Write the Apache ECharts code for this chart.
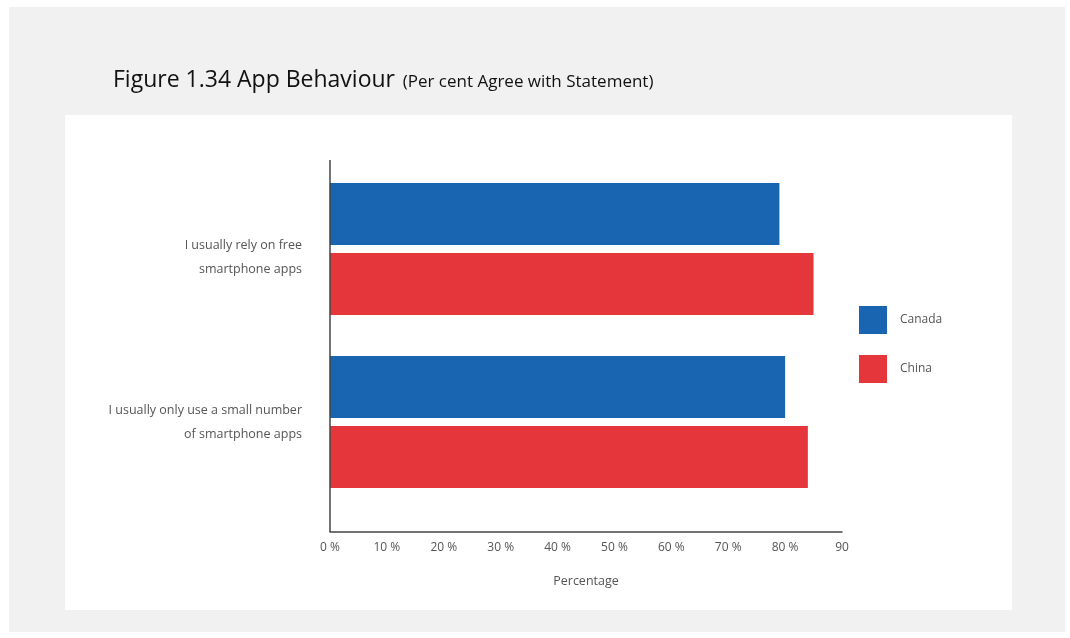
<!DOCTYPE html>
<html><head><meta charset="utf-8">
<script src="https://cdn.jsdelivr.net/npm/echarts@6/dist/echarts.min.js"></script>
<style>html,body{margin:0;padding:0;background:#fff}#c{width:1070px;height:638px}</style>
</head><body><div id="c"></div>
<script>
const categories = ['I usually rely on free\nsmartphone apps', 'I usually only use a small number\nof smartphone apps'];
const canada = [79, 80];
const china = [85, 84];
const seriesNames = ['Canada', 'China'];
const xTicksMax = 90;

const FONT = 'Open Sans';
const chart = echarts.init(document.getElementById('c'));
chart.setOption({
  animation: false,
  textStyle: {fontFamily: FONT},
  graphic: [
    {type: 'rect', z: -10, shape: {x: 9, y: 7, width: 1056, height: 625}, style: {fill: '#f1f1f1'}},
    {type: 'rect', z: -9, shape: {x: 65, y: 115, width: 947, height: 495}, style: {fill: '#ffffff'}},
    {type: 'line', z: 10, shape: {x1: 330, y1: 160, x2: 330, y2: 532}, style: {stroke: '#444', lineWidth: 1.5}}
  ],
  title: {
    left: 108, top: 64,
    text: '{a|Figure 1.34 App Behaviour} {b|(Per cent Agree with Statement)}',
    textStyle: {
      rich: {
        a: {fontFamily: FONT, fontSize: 23, color: '#111', fontWeight: 'normal'},
        b: {fontFamily: FONT, fontSize: 17, color: '#111', fontWeight: 'normal', padding: [4, 0, 0, 3]}
      }
    }
  },
  legend: {
    orient: 'vertical', left: 859, top: 306, padding: 0,
    itemWidth: 28, itemHeight: 28, itemGap: 21,
    icon: 'rect',
    textStyle: {fontSize: 12, color: '#555', padding: [0, 0, 0, 8]},
    data: seriesNames
  },
  grid: {left: 330, right: 228, top: 162.5, bottom: 129.5},
  xAxis: {
    type: 'value', min: 0, max: xTicksMax, interval: 10, offset: 23.5,
    name: 'Percentage', nameLocation: 'middle', nameGap: 43,
    nameTextStyle: {fontSize: 12.5, color: '#555'},
    axisLine: {show: true, lineStyle: {color: '#444', width: 1.5}},
    axisTick: {show: false},
    splitLine: {show: false},
    axisLabel: {fontSize: 12, color: '#555', margin: 10,
      formatter: v => v === xTicksMax ? String(v) : v + ' %'}
  },
  yAxis: {
    type: 'category', inverse: true,
    data: categories,
    axisLine: {show: false},
    axisTick: {show: false},
    axisLabel: {
      fontSize: 12.5, color: '#555', lineHeight: 24, margin: 28, align: 'right',
      formatter: (v, i) => {
        const lines = v.split('\n').map(s => '{n|' + s + '}').join('\n');
        return i === 0 ? '{e| }\n' + lines : lines;
      },
      rich: {
        e: {fontFamily: FONT, fontSize: 6, lineHeight: 17},
        n: {fontFamily: FONT, fontSize: 12.5, color: '#555', lineHeight: 24}
      }
    }
  },
  series: [
    {name: seriesNames[0], type: 'bar', data: canada, itemStyle: {color: '#1a65b1'}, barGap: '13%', barCategoryGap: '23.7%'},
    {name: seriesNames[1], type: 'bar', data: china, itemStyle: {color: '#e5363b'}}
  ]
});
</script></body></html>
